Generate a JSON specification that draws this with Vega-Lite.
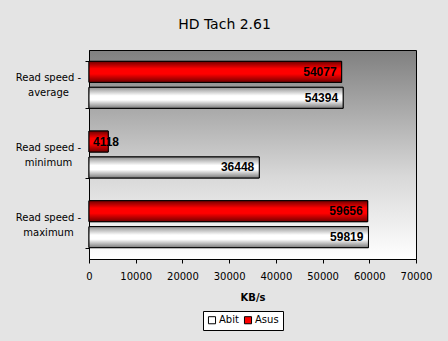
{
  "$schema": "https://vega.github.io/schema/vega-lite/v6.json",
  "autosize": {"type": "none"},
  "padding": {"left": 89, "top": 50, "right": 32, "bottom": 82},
  "width": 327,
  "height": 209,
  "background": "#e4e4e4",
  "title": {"text": "HD Tach 2.61", "font": "DejaVu Sans", "fontSize": 14, "fontWeight": "normal", "color": "#000000", "dx": -28, "offset": 13},
  "data": {"values": [
    {"metric": "Read speed - average", "board": "Asus", "kbs": 54077},
    {"metric": "Read speed - average", "board": "Abit", "kbs": 54394},
    {"metric": "Read speed - minimum", "board": "Asus", "kbs": 4118},
    {"metric": "Read speed - minimum", "board": "Abit", "kbs": 36448},
    {"metric": "Read speed - maximum", "board": "Asus", "kbs": 59656},
    {"metric": "Read speed - maximum", "board": "Abit", "kbs": 59819}
  ]},
  "encoding": {
    "y": {"field": "metric", "type": "nominal", "sort": ["Read speed - average", "Read speed - minimum", "Read speed - maximum"],
      "scale": {"paddingInner": 0.326, "paddingOuter": 0.163},
      "axis": {"title": null, "labelExpr": "split(replace(datum.label, ' - ', ' -|'), '|')", "labelAlign": "center", "labelBaseline": "middle", "labelPadding": 37, "labelOffset": -7, "tickSize": 4, "tickColor": "#000000", "domainColor": "#000000", "labelFont": "DejaVu Sans", "labelFontSize": 10, "labelColor": "#000000", "labelLineHeight": 15, "tickBand": "extent", "labelBound": false}},
    "yOffset": {"field": "board", "type": "nominal", "sort": ["Asus", "Abit"], "scale": {"paddingInner": 0.19, "paddingOuter": 0}},
    "x": {"field": "kbs", "type": "quantitative", "scale": {"domain": [0, 70000], "nice": false},
      "axis": {"title": "KB/s", "titleFont": "DejaVu Sans", "titleFontSize": 10, "titleFontWeight": "bold", "titleColor": "#000000", "titlePadding": 11, "values": [0, 10000, 20000, 30000, 40000, 50000, 60000, 70000], "format": "d", "grid": false, "tickSize": 4, "tickColor": "#000000", "domainColor": "#000000", "labelFont": "DejaVu Sans", "labelFontSize": 10, "labelColor": "#000000", "labelPadding": 8, "labelFlush": false}}
  },
  "layer": [
    {"mark": {"type": "bar", "stroke": "#000000", "strokeWidth": 1},
     "encoding": {"color": {"field": "board", "type": "nominal", "scale": {"domain": ["Abit", "Asus"], "range": ["#ffffff", "#ff0000"]},
       "legend": {"title": null, "orient": "none", "legendX": 114, "legendY": 261, "direction": "horizontal", "symbolType": "square", "symbolSize": 50, "symbolStrokeColor": "#000000", "symbolStrokeWidth": 1, "labelFont": "DejaVu Sans", "labelFontSize": 10, "labelColor": "#000000", "fillColor": "#ffffff", "strokeColor": "#000000", "padding": 4, "columnPadding": 3, "labelOffset": 2}}}},
    {"transform": [{"filter": "datum.board === 'Asus'"}],
     "mark": {"type": "bar", "stroke": "#000000", "strokeWidth": 1,
       "fill": {"gradient": "linear", "x1": 0, "y1": 0, "x2": 0, "y2": 1, "stops": [
         {"offset": 0, "color": "#700000"}, {"offset": 0.35, "color": "#ff0000"}, {"offset": 0.6, "color": "#ff0000"}, {"offset": 1, "color": "#700000"}]}}},
    {"transform": [{"filter": "datum.board === 'Abit'"}],
     "mark": {"type": "bar", "stroke": "#000000", "strokeWidth": 1,
       "fill": {"gradient": "linear", "x1": 0, "y1": 0, "x2": 0, "y2": 1, "stops": [
         {"offset": 0, "color": "#909090"}, {"offset": 0.4, "color": "#ffffff"}, {"offset": 0.6, "color": "#ffffff"}, {"offset": 1, "color": "#7a7a7a"}]}}},
    {"transform": [{"filter": "datum.kbs >= 10000"}],
     "mark": {"type": "text", "align": "right", "baseline": "middle", "dx": -5, "font": "Liberation Sans", "fontSize": 12, "fontWeight": "bold", "color": "#000000"},
     "encoding": {"text": {"field": "kbs", "type": "quantitative", "format": "d"}}},
    {"transform": [{"filter": "datum.kbs < 10000"}],
     "mark": {"type": "text", "align": "left", "baseline": "middle", "dx": 4, "font": "Liberation Sans", "fontSize": 12, "fontWeight": "bold", "color": "#000000"},
     "encoding": {"x": {"datum": 0}, "text": {"field": "kbs", "type": "quantitative", "format": "d"}}}
  ],
  "config": {
    "view": {"stroke": "#000000", "strokeWidth": 1,
      "fill": {"gradient": "linear", "x1": 0, "y1": 0, "x2": 0, "y2": 1, "stops": [{"offset": 0, "color": "#808080"}, {"offset": 0.6, "color": "#d8d8d8"}, {"offset": 1, "color": "#ffffff"}]}}
  }
}
